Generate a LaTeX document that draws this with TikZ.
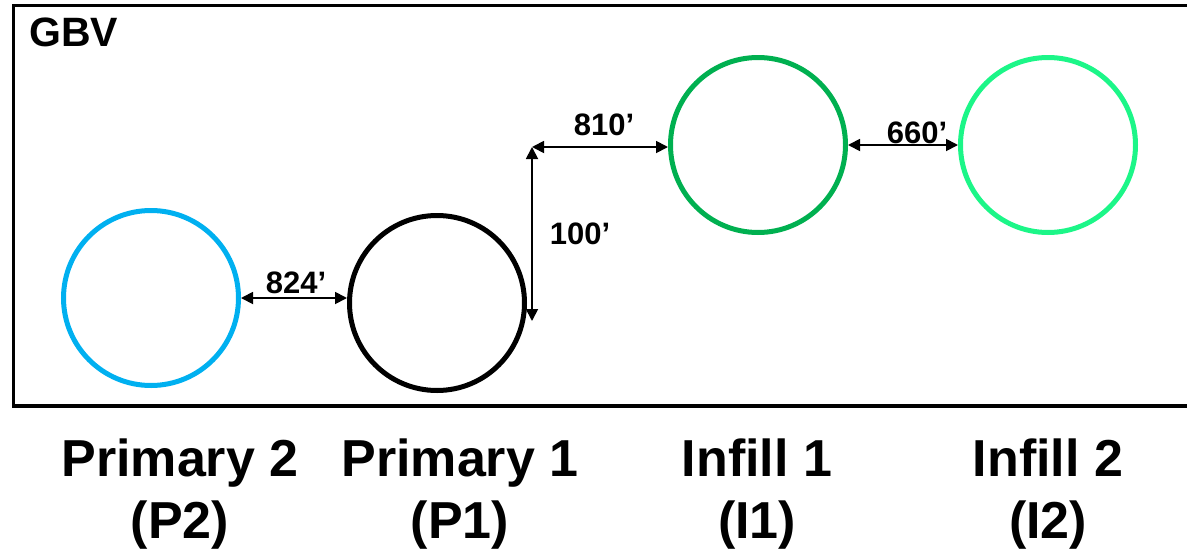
\documentclass[tikz,border=0pt]{standalone}
\usepackage{fontspec}
\setmainfont{Liberation Sans}
\usetikzlibrary{arrows.meta}
\definecolor{ptwo}{RGB}{0,176,240}
\definecolor{ione}{RGB}{0,176,80}
\definecolor{itwo}{RGB}{28,246,136}
\tikzset{
  well/.style={circle, draw, line width=5pt, minimum size=175pt, inner sep=0pt},
  dist/.style={line width=1.8pt, {Triangle[length=12pt,width=12pt]}-{Triangle[length=12pt,width=12pt]}},
  distlabel/.style={font=\fontsize{31}{34}\selectfont\bfseries, inner sep=0pt},
  wellname/.style={font=\fontsize{52}{62}\selectfont\bfseries, align=center, inner sep=0pt, anchor=north}
}
\begin{document}
\begin{tikzpicture}[x=1pt,y=-1pt]
  \useasboundingbox (0,0) rectangle (1187,552);
  \clip (0,0) rectangle (1187,552);
  % field boundary
  \draw[line width=3.5pt] (1200,5.5) -- (13.5,5.5) -- (13.5,406) -- (1200,406);
  \node[font=\fontsize{41}{44}\selectfont\bfseries, anchor=base west, inner sep=0pt] (gbv) at (29,46) {GBV};
  % wells
  \node[well, draw=ptwo] (P2) at (151,298) {};
  \node[well, draw=black] (P1) at (437,303) {};
  \node[well, draw=ione] (I1) at (758,145) {};
  \node[well, draw=itwo] (I2) at (1048,145) {};
  % spacing dimensions
  \coordinate (vt) at (532,147);
  \coordinate (vb) at (532,321);
  \draw[dist] (P2.east) -- (P2.east -| P1.west);
  \draw[dist] (vb) -- (vt);
  \draw[dist] (vt) -- (vt -| I1.west);
  \draw[dist] (I1.east) -- (I2.west);
  \node[distlabel] (d824) at (296,283) {824’};
  \node[distlabel] (d810) at (604,125) {810’};
  \node[distlabel] (d100) at (580,234) {100’};
  \node[distlabel] (d660) at (917,133) {660’};
  % well names
  \node[wellname] (nP2) at (180,439) {Primary 2\\(P2)};
  \node[wellname] (nP1) at (460,439) {Primary 1\\(P1)};
  \node[wellname] (nI1) at (757,439) {Infill 1\\(I1)};
  \node[wellname] (nI2) at (1048,439) {Infill 2\\(I2)};
\end{tikzpicture}
\end{document}
